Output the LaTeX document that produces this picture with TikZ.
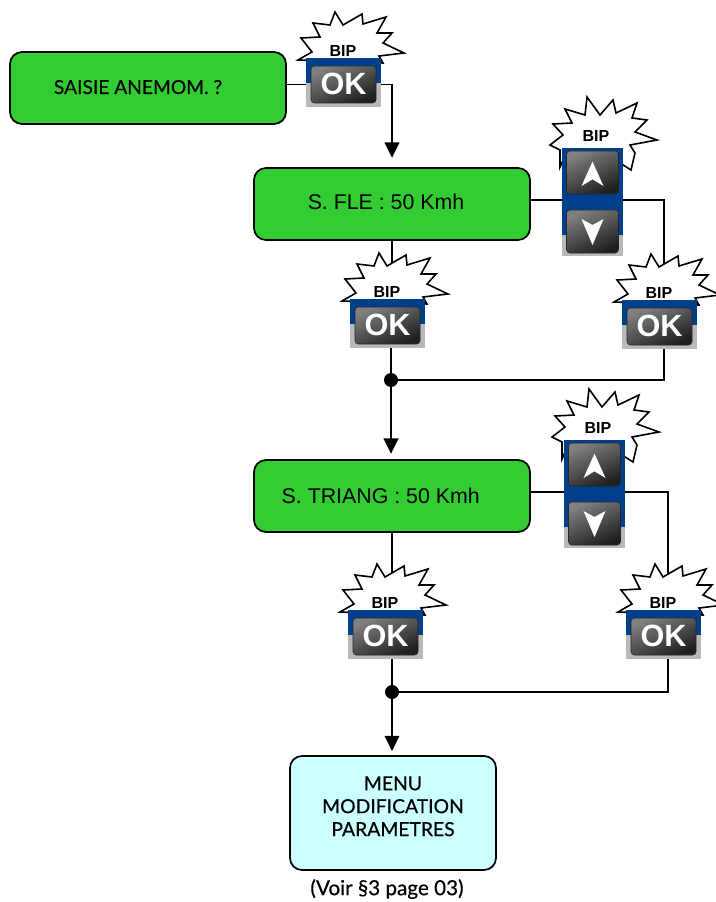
\documentclass[tikz,border=0pt]{standalone}
\usepackage{fontspec}
\setmainfont{Liberation Sans}
\newfontfamily\roundfont[RawFeature={embolden=0.5}]{Lato}
\usetikzlibrary{arrows.meta,backgrounds}
\definecolor{boxgreen}{HTML}{33CC33}
\definecolor{boxcyan}{HTML}{CCFFFF}
\definecolor{panelblue}{HTML}{003F8C}
\definecolor{panelgray}{HTML}{B9B9B9}
\tikzset{
  menubox/.style={draw, line width=1.3pt, rounded corners=9pt, minimum width=207pt, minimum height=54pt, fill=boxgreen, font=\fontsize{16}{18}\selectfont},
  burst/.style={draw, fill=white, line width=1.2pt},
  panel/.style={fill=panelgray, inner sep=0pt},
  key/.style={rounded corners=2.5pt, inner sep=0pt, draw=black!85, top color=black!50, bottom color=black!88, shading angle=25},
  link/.style={line width=1.2pt},
  flow/.style={line width=1.2pt, -{Triangle[length=11.5pt,width=11pt]}},
  junction/.style={circle, fill=black, inner sep=0pt, minimum size=10.5pt},
  bip/.style={font=\fontsize{12}{14}\bfseries\selectfont},
  okbutton/.pic={
    \draw[burst] (29,-46) -- (37,-33) -- (56,-44) -- (57,-34) -- (80,-41) -- (71,-25) -- (86,-25) -- (77,-15) -- (98,-5) -- (73,-2) -- (77,5) -- (-8,2) -- (6,-6) -- (-5,-20) -- (14,-21) -- (7,-35) -- (24,-33) -- cycle;
    \node[panel, minimum width=56.25pt, minimum height=36.75pt] (-box) at (37.5,24.5) {};
    \fill[panelblue] (0,0) rectangle (75,25);
    \node[bip] (-bip) at (37,-7.5) {BIP};
    \node[key, minimum width=48.75pt, minimum height=27.75pt] (-key) at (37.5,26.5) {};
    \node[text=white, font=\fontsize{23}{26}\bfseries\selectfont] (-ok) at (37.5,26) {OK};
  },
  arrowbutton/.pic={
    \draw[burst] (25,-51) -- (38,-33) -- (51,-48) -- (54,-35) -- (75,-45) -- (70,-30) -- (85,-28) -- (73,-16) -- (95,-8) -- (68,-3) -- (73,5) -- (69,22) -- (50,10) -- (2,10) -- (-2,19) -- (-2,2) -- (-12,-3) -- (1,-13) -- (-9,-24) -- (10,-25) -- (3,-39) -- (23,-33) -- cycle;
    \node[panel, minimum width=45.75pt, minimum height=81pt] (-box) at (30.5,54) {};
    \fill[panelblue] (0,0) rectangle (61,87);
    \coordinate (-tap) at (30.5,52);
    \node[bip] (-bip) at (34,-12) {BIP};
    \node[key, minimum width=39pt, minimum height=32.25pt] (-up) at (30.5,24.5) {};
    \node[key, minimum width=39pt, minimum height=32.25pt] (-down) at (30.5,83.5) {};
    \fill[white] (30.5,13.7) -- (41.5,38) -- (30.5,31.3) -- (19.5,38) -- cycle;
    \fill[white] (30.5,97) -- (41.5,71) -- (30.5,77) -- (19.5,71) -- cycle;
  }
}
\begin{document}
\begin{tikzpicture}[x=.75pt, y=-.75pt]
\useasboundingbox (0,0) rectangle (715,902);
\node[menubox, font=\roundfont\fontsize{14.4}{16}\selectfont] (saisie) at (148,88) {\raisebox{1.5pt}{\hspace*{-15pt}SAISIE ANEMOM. ?}};
\node[menubox] (fle) at (392,204) {\raisebox{3.5pt}{\hspace*{-9pt}S. FLE : 50 Kmh}};
\node[menubox] (triang) at (392,496) {\hspace*{-17pt}S. TRIANG : 50 Kmh};
\node[menubox, minimum width=154.5pt, minimum height=85.5pt, fill=boxcyan, align=center, font=\roundfont\fontsize{14.5}{17.2}\selectfont] (menu) at (393,813) {MENU\\MODIFICATION\\PARAMETRES\\[-7pt]\mbox{}};
\node[font=\roundfont\fontsize{15.5}{17}\selectfont] (voir) at (387,889) {(Voir §3 page 03)};
\pic (okA) at (306,58) {okbutton};
\pic (okB) at (350,299) {okbutton};
\pic (okC) at (622,300) {okbutton};
\pic (okD) at (348,610) {okbutton};
\pic (okE) at (626,610) {okbutton};
\pic (arrA) at (562,148) {arrowbutton};
\pic (arrB) at (564,440) {arrowbutton};
\node[junction] (dotA) at (391,380) {};
\node[junction] (dotB) at (392,692) {};
\coordinate (tapC) at (664,320);
\coordinate (tapE) at (668,630);
\begin{scope}[on background layer]
\draw[link] (okA-key.center -| saisie.east) -- (okA-key.center);
\draw[flow, shorten >=7pt] (okA-key.center) -| (fle.north);
\draw[link] (fle.south) -- (fle.south |- okB-box.center);
\draw[link] (arrA-tap -| fle.east) -- (arrA-tap);
\draw[link] (arrA-tap) -| (tapC);
\draw[link] (okB-box.center -| dotA) -- (dotA);
\draw[link] (tapC) |- (dotA);
\draw[flow, shorten >=4pt] (dotA) -- (dotA |- triang.north);
\draw[link] (triang.south) -- (triang.south |- okD-box.center);
\draw[link] (arrB-tap -| triang.east) -- (arrB-tap);
\draw[link] (arrB-tap) -| (tapE);
\draw[link] (okD-box.center -| dotB) -- (dotB);
\draw[link] (tapE) |- (dotB);
\draw[flow, shorten >=3pt] (dotB) -- (dotB |- menu.north);
\end{scope}
\end{tikzpicture}
\end{document}
